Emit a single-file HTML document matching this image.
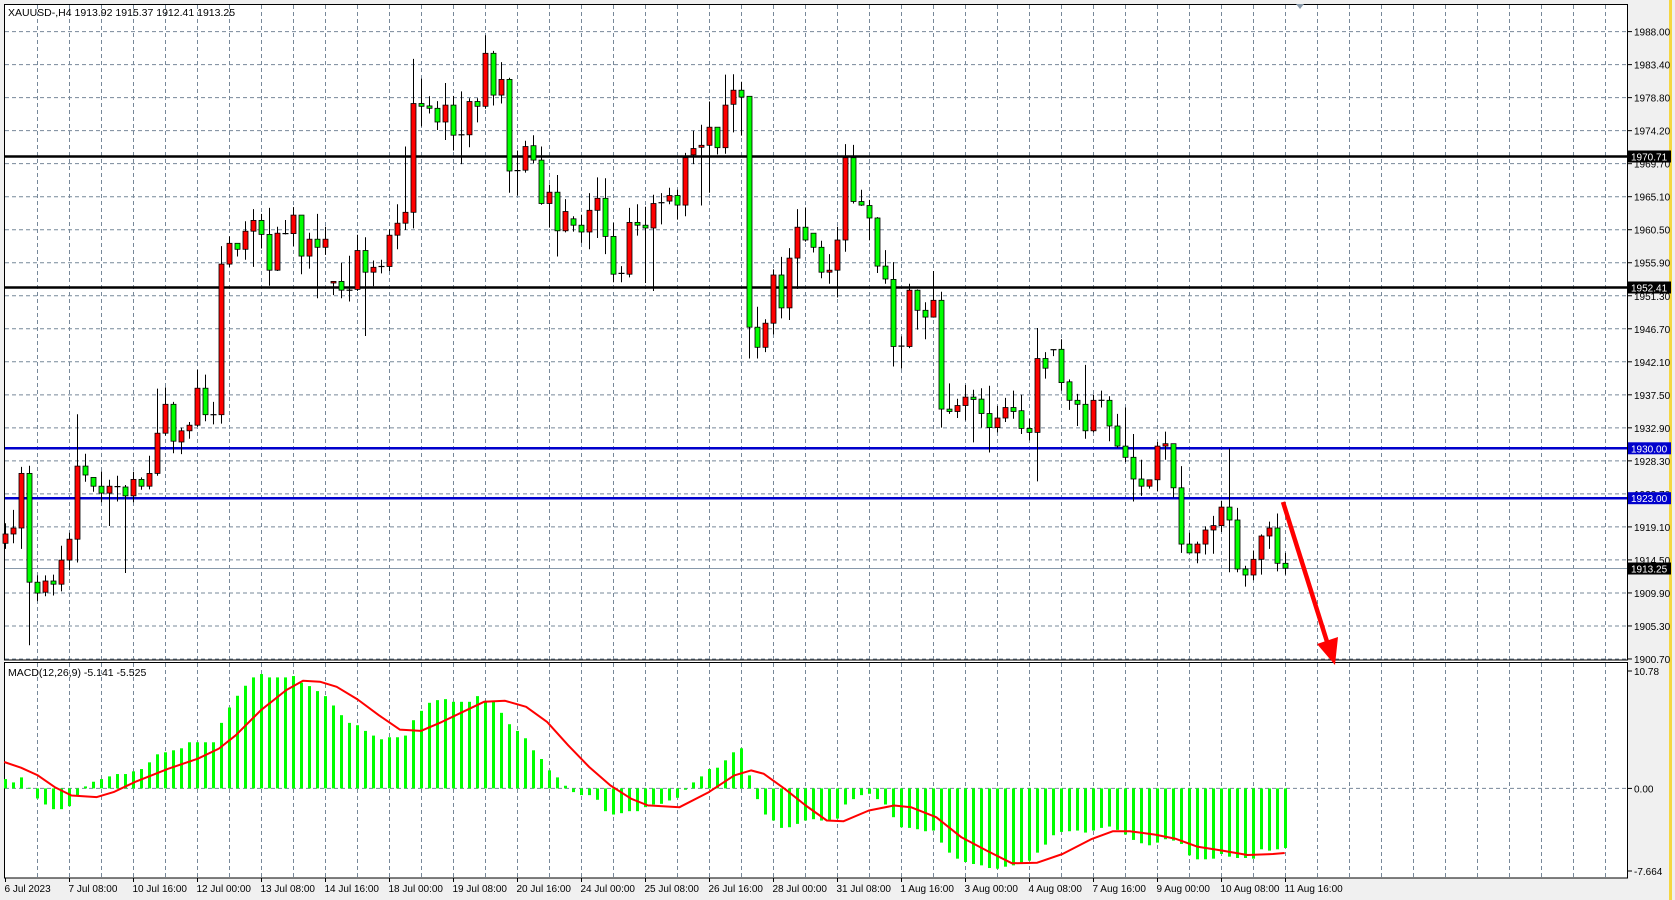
<!DOCTYPE html>
<html><head><meta charset="utf-8"><style>
html,body{margin:0;padding:0;background:#f0f0f0;}
svg{display:block;font-family:"Liberation Sans",sans-serif;}
</style></head><body>
<svg id="s" width="1675" height="900" xmlns="http://www.w3.org/2000/svg"></svg>
<script>
const S=document.getElementById('s');let h='';
h+='<rect x="0" y="0" width="1675" height="900" fill="#f0f0f0"/>';
h+='<rect x="4" y="4" width="1624" height="874" fill="#fff"/>';
h+='<rect x="1669" y="0" width="3" height="900" fill="#f5d742"/>';
// grid horizontal main
const labs=["1988.00","1983.40","1978.80","1974.20","1969.70","1965.10","1960.50","1955.90","1951.30","1946.70","1942.10","1937.50","1932.90","1928.30","1923.70","1919.10","1914.50","1909.90","1905.30","1900.70"];
for(let k=0;k<20;k++){const y=31.6+k*33.02;
h+=`<line x1="5" y1="${y}" x2="1627" y2="${y}" stroke="#778899" stroke-dasharray="4,3" stroke-width="1"/>`;
h+=`<line x1="1628" y1="${y}" x2="1632" y2="${y}" stroke="#000"/>`;
h+=`<text x="1634" y="${y+4}" font-size="10" fill="#000">${labs[k]}</text>`;}
// vertical grid
for(let k=1;;k++){const x=5.5+32*k; if(x>1627)break;
h+=`<line x1="${x}" y1="5" x2="${x}" y2="660" stroke="#778899" stroke-dasharray="4,3"/>`;
h+=`<line x1="${x}" y1="663" x2="${x}" y2="878" stroke="#778899" stroke-dasharray="4,3"/>`;}
// macd zero line
h+=`<line x1="5" y1="788.4" x2="1627" y2="788.4" stroke="#778899" stroke-dasharray="4,3"/>`;
// frames
h+='<rect x="4.5" y="4.5" width="1623" height="655.5" fill="none" stroke="#000"/>';
h+='<rect x="4.5" y="662.5" width="1623" height="215.5" fill="none" stroke="#000"/>';
// horizontal levels
h+='<line x1="5" y1="156.5" x2="1627" y2="156.5" stroke="#000" stroke-width="2.5"/>';
h+='<line x1="5" y1="287.5" x2="1627" y2="287.5" stroke="#000" stroke-width="2.5"/>';
h+='<line x1="5" y1="448.3" x2="1627" y2="448.3" stroke="#0000cc" stroke-width="2.5"/>';
h+='<line x1="5" y1="498.2" x2="1627" y2="498.2" stroke="#0000cc" stroke-width="2.5"/>';
h+='<line x1="5" y1="568.5" x2="1627" y2="568.5" stroke="#8899aa" stroke-width="1"/>';
// candles
const C=`r 1255 1278 1228 1292|r 1240 1255 1195 1278|r 1104 1240 1088 1292|g 1104 1375 1085 1532|g 1375 1402 1358 1422|r 1372 1400 1358 1410|g 1372 1380 1356 1408|r 1320 1380 1284 1398|r 1268 1320 1252 1345|r 1086 1268 957 1326|g 1086 1108 1055 1125|g 1114 1136 1114 1150|g 1136 1153 1099 1176|r 1136 1153 1120 1235|d 1137 1137 1110 1174|g 1138 1160 1133 1352|r 1119 1160 1100 1176|g 1119 1136 1114 1145|r 1104 1136 1060 1144|r 1004 1104 893 1110|r 932 1004 890 1010|g 932 1024 926 1054|r 998 1026 990 1056|r 984 998 976 1018|r 892 984 846 988|g 892 958 858 974|d 958 958 926 982|r 583 958 538 980|r 531 583 514 590|g 531 546 531 564|r 501 546 476 572|r 474 501 446 590|g 474 509 458 544|g 509 598 443 637|r 506 598 490 600|d 507 507 473 509|r 461 507 441 538|g 461 563 461 608|r 521 563 505 594|g 521 541 458 668|r 521 541 490 560|r 626 630 626 660|g 626 648 580 668|d 648 648 562 676|r 549 646 510 650|g 549 603 516 762|r 591 603 574 638|d 589 589 572 606|r 511 589 496 600|r 481 511 434 546|r 454 481 290 498|r 183 454 72 494|g 183 190 121 240|g 189 195 165 208|g 195 229 177 249|r 187 229 132 274|g 187 262 164 300|d 261 261 153 334|r 178 261 170 292|g 178 190 170 230|r 58 190 13 196|g 58 162 52 188|r 123 162 80 183|g 123 351 119 405|d 350 350 300 412|r 290 349 276 355|g 288 324 262 332|g 324 432 290 435|r 404 432 385 492|g 404 500 361 564|r 452 500 421 504|g 470 486 464 502|g 486 503 460 530|r 449 503 406 546|r 419 449 367 518|g 419 514 369 558|g 514 608 480 628|d 606 606 588 628|r 479 608 443 616|g 479 486 434 512|g 486 493 440 630|r 432 493 410 650|d 430 430 406 484|r 412 426 393 434|g 412 436 398 472|r 318 436 306 464|r 295 311 251 334|r 287 292 236 437|r 242 287 178 405|g 242 293 242 310|r 187 293 111 308|r 150 185 110 255|g 150 167 129 263|g 165 740 165 818|g 740 790 689 818|r 730 790 720 802|r 610 730 596 758|g 610 692 565 718|r 568 692 543 722|r 491 568 446 645|g 491 523 442 527|g 506 541 506 554|g 541 603 525 618|r 598 603 558 632|r 523 598 490 666|r 318 523 284 552|g 318 427 286 432|g 427 436 398 438|g 437 468 423 524|g 468 588 466 605|g 588 620 548 632|g 621 788 578 838|d 787 787 763 843|r 648 788 632 792|g 648 698 646 746|g 698 715 678 770|r 673 715 600 716|g 673 944 652 990|g 944 950 880 956|r 935 950 918 966|r 914 935 884 972|g 914 920 896 1027|g 919 955 892 990|g 955 990 886 1052|r 966 990 936 1002|r 940 966 916 976|g 940 950 898 968|g 948 992 908 1006|g 992 1002 968 1022|r 818 1002 742 1124|g 818 842 802 868|d 796 796 796 812|g 795 878 770 898|g 876 922 870 946|g 922 932 906 986|g 932 998 834 1018|r 922 998 908 1002|d 922 922 898 940|g 922 986 912 1024|g 986 1036 956 1040|g 1036 1064 940 1076|g 1064 1118 1006 1174|g 1118 1136 1070 1160|r 1120 1136 1120 1142|r 1036 1120 1026 1148|r 1030 1036 1000 1070|g 1030 1140 1030 1164|g 1140 1280 1086 1302|g 1280 1302 1252 1302|r 1280 1302 1274 1328|r 1245 1280 1236 1306|r 1234 1245 1210 1304|r 1188 1234 1172 1250|g 1188 1220 1042 1350|g 1220 1342 1190 1350|g 1342 1357 1334 1386|r 1318 1357 1296 1370|r 1260 1318 1256 1356|r 1240 1260 1224 1292|g 1240 1328 1204 1348|g 1328 1340 1302 1356`.split('|');
const Y=z=>(30+z/2.49).toFixed(1);
C.forEach((s,i)=>{const p=s.split(' ');const x=5.5+8*i;const bt=+Y(+p[1]),bb=+Y(+p[2]);
h+=`<line x1="${x}" y1="${Y(+p[3])}" x2="${x}" y2="${Y(+p[4])}" stroke="#000"/>`;
if(p[0]=='d'){h+=`<line x1="${x-3}" y1="${bt}" x2="${x+3}" y2="${bt}" stroke="#000" stroke-width="1.2"/>`;}
else{h+=`<rect x="${x-2.5}" y="${bt}" width="5" height="${Math.max(bb-bt,1.5)}" fill="${p[0]=='r'?'#ff0000':'#00ff00'}" stroke="#000" stroke-width="0.8"/>`;}});
// MACD hist
const H=[356,366,351,382,414,432,446,446,437,404,378,364,356,348,341,341,333,326,306,282,276,270,264,246,246,246,246,188,142,107,77,52,42,52,52,52,48,68,78,93,108,136,165,188,195,212,226,237,231,231,226,180,152,128,120,117,125,125,125,108,122,122,158,192,212,234,270,296,330,351,376,395,404,404,418,452,462,458,452,452,440,
432,430,420,412,388,366,348,326,322,300,276,264,345,416,462,480,502,500,490,480,476,480,478,474,432,416,404,400,416,432,470,500,502,506,512,510,546,576,594,604,610,614,622,624,618,614,606,600,576,552,524,514,512,510,516,510,502,498,508,522,538,548,554,546,536,540,550,584,596,596,594,580,588,592,592,594,566,570,566,562];
H.forEach((z,i)=>{const x=5.5+8*i;const y=660+z/2.99;const y0=788.4;
h+=`<rect x="${x-1.5}" y="${Math.min(y,y0)}" width="3" height="${Math.max(Math.abs(y-y0),0.8)}" fill="#00ff00"/>`;});
// signal
const S1=[[10,305],[50,322],[90,345],[130,380],[170,405],[230,410],[270,395],[320,365],[400,325],[470,295],[520,265],[560,225],[620,150],[680,90],[720,62],[760,65],[800,80],[850,118],[900,165],[950,208],[1000,212],[1050,185],[1100,155],[1150,125],[1200,122],[1250,140],[1300,185],[1350,255],[1400,320],[1450,375],[1500,415],[1540,435]];
const S2=[[0,435],[70,440],[140,395],[200,345],[240,330],[270,340],[320,385],[370,435],[420,480],[460,482],[520,450],[580,435],[620,440],[680,470],[740,530],[800,570],[860,608],[920,606],[980,580],[1050,535],[1100,512],[1140,512],[1200,522],[1250,535],[1300,558],[1360,570],[1420,583],[1480,580],[1508,577]];
let pts=S1.map(p=>(p[0]/2.376).toFixed(1)+','+(660+p[1]/2.99).toFixed(1)).concat(S2.map(p=>(650+p[0]/2.376).toFixed(1)+','+(660+p[1]/2.99).toFixed(1)));
h+=`<polyline points="${pts.join(' ')}" fill="none" stroke="#ff0000" stroke-width="2" stroke-linejoin="round"/>`;
// arrow
h+='<line x1="1283" y1="502" x2="1329" y2="648" stroke="#ff0000" stroke-width="4.5"/>';
h+='<polygon points="1335,665 1338,637 1317,644" fill="#ff0000"/>';
// price tags
function tag(y,t,bg){h+=`<rect x="1628" y="${y-6}" width="43" height="12" fill="${bg}"/><text x="1631" y="${y+4}" font-size="10" fill="#fff">${t}</text>`;}
tag(156.5,"1970.71","#000");tag(287.5,"1952.41","#000");tag(448.3,"1930.00","#0000cc");tag(498.2,"1923.00","#0000cc");tag(568.5,"1913.25","#000");
// macd axis
[[671,"10.78"],[788.4,"0.00"],[871,"-7.664"]].forEach(a=>{h+=`<line x1="1628" y1="${a[0]}" x2="1632" y2="${a[0]}" stroke="#000"/><text x="1634" y="${a[0]+4}" font-size="10">${a[1]}</text>`;});
// titles
h+='<text x="8" y="16" font-size="10.5">XAUUSD-,H4  1913.92 1915.37 1912.41 1913.25</text>';
h+='<text x="8" y="676" font-size="10.5">MACD(12,26,9) -5.141 -5.525</text>';
// time labels
const T=["6 Jul 2023","7 Jul 08:00","10 Jul 16:00","12 Jul 00:00","13 Jul 08:00","14 Jul 16:00","18 Jul 00:00","19 Jul 08:00","20 Jul 16:00","24 Jul 00:00","25 Jul 08:00","26 Jul 16:00","28 Jul 00:00","31 Jul 08:00","1 Aug 16:00","3 Aug 00:00","4 Aug 08:00","7 Aug 16:00","9 Aug 00:00","10 Aug 08:00","11 Aug 16:00"];
T.forEach((t,k)=>{const x=5.5+64*k;h+=`<line x1="${x}" y1="878" x2="${x}" y2="882" stroke="#000"/><text x="${x-1}" y="892" font-size="10">${t}</text>`;});
h+='<polygon points="1296,4 1304,4 1300,9" fill="#8899aa"/>';
S.innerHTML=h;
</script>
</body></html>
